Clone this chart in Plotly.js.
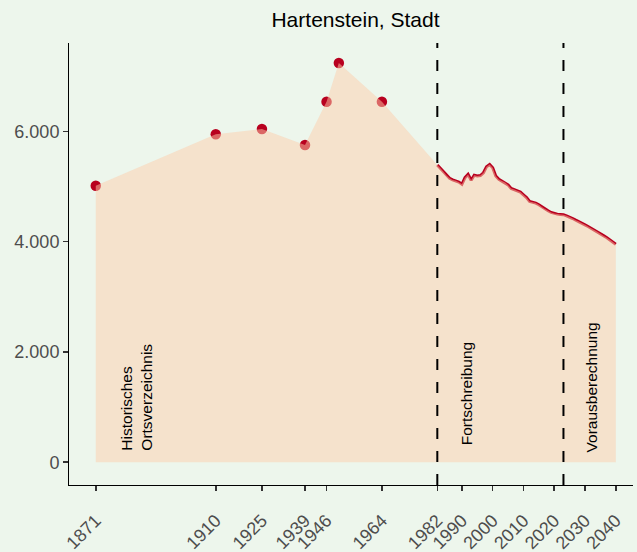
<!DOCTYPE html>
<html>
<head>
<meta charset="utf-8">
<script src="https://cdn.plot.ly/plotly-3.0.1.min.js"></script>
<style>html,body{margin:0;padding:0;background:#EDF6EC;}#chart{width:637px;height:552px;}</style>
</head>
<body>
<div id="chart"></div>
<script>
// Historical census points (Historisches Ortsverzeichnis)
var histYears = [1871, 1910, 1925, 1939, 1946, 1950, 1964];
var histValues = [5015, 5947, 6044, 5753, 6538, 7240, 6538];

// Annual series (Fortschreibung 1982-2022, Vorausberechnung 2023-2040)
var seriesYears = [1982,1983,1984,1985,1986,1987,1988,1989,1990,1991,1992,1993,1994,1995,1996,1997,1998,1999,2000,
  2001,2002,2003,2004,2005,2006,2007,2008,2009,2010,2011,2012,2013,2014,2015,2016,2017,2018,2019,2020,
  2021,2022,2023,2024,2025,2026,2027,2028,2029,2030,2031,2032,2033,2034,2035,2036,2037,2038,2039,2040];
var seriesValues = [5390,5330,5270,5200,5150,5120,5105,5080,5040,5160,5220,5115,5205,5190,5200,5250,5360,5400,5340,
  5190,5130,5100,5075,5030,4965,4945,4925,4900,4850,4800,4730,4715,4700,4670,4630,4595,4560,4530,4510,
  4500,4495,4490,4470,4450,4420,4390,4365,4335,4305,4275,4245,4210,4180,4145,4110,4075,4040,4000,3955];

// Period boundaries
var periodBreaks = [1982, 2023];
var periodLabels = ['Historisches<br>Ortsverzeichnis', 'Fortschreibung', 'Vorausberechnung'];

// Axis ticks
var xTickVals = [1871, 1910, 1925, 1939, 1946, 1964, 1982, 1990, 2000, 2010, 2020, 2030, 2040];
var xTickText = ['1871', '1910', '1925', '1939', '1946', '1964', '1982', '1990', '2000', '2010', '2020', '2030', '2040'];
var yTickVals = [0, 2000, 4000, 6000];
var yTickText = ['0', '2.000', '4.000', '6.000'];

var chartTitle = 'Hartenstein, Stadt';

var red = '#B8001F';
var traces = [
  {x: histYears, y: histValues, type: 'scatter', mode: 'markers',
   marker: {color: red, size: 10.5}, hoverinfo: 'x+y', showlegend: false},
  {x: seriesYears, y: seriesValues, type: 'scatter', mode: 'lines',
   line: {color: red, width: 3}, showlegend: false},
  {x: histYears.concat(seriesYears), y: histValues.concat(seriesValues), type: 'scatter', mode: 'none',
   fill: 'tozeroy', fillcolor: 'rgba(253,206,172,0.5)', showlegend: false, hoverinfo: 'skip'}
];

var shapes = periodBreaks.map(function (b) {
  return {type: 'line', xref: 'x', yref: 'paper', x0: b, x1: b, y0: 0, y1: 1,
          line: {color: '#000', width: 2, dash: '11px,12px'}, layer: 'above'};
});

var annPos = [
  {x: 1884.4, y: 165},
  {x: 1991.3, y: 280},
  {x: 2032.1, y: 150}
];
var annotations = periodLabels.map(function (t, i) {
  return {text: t, x: annPos[i].x, y: annPos[i].y, xref: 'x', yref: 'y',
          textangle: -90, showarrow: false, xanchor: 'center', yanchor: 'bottom', align: 'left',
          font: {family: 'Liberation Sans, Arial, sans-serif', size: 15.5, color: '#000'}};
});

var layout = {
  width: 637, height: 552,
  paper_bgcolor: '#EDF6EC', plot_bgcolor: '#EDF6EC',
  margin: {l: 69, r: 4, t: 43, b: 67, pad: 0},
  font: {family: 'Liberation Sans, Arial, sans-serif'},
  title: {text: chartTitle, x: 0.508, xref: 'paper', y: 1 - 20 / 552, yref: 'container', yanchor: 'middle',
          font: {size: 21, color: '#000', family: 'Liberation Sans, Arial, sans-serif'}},
  xaxis: {range: [1862.3, 2045.6], tickvals: xTickVals, ticktext: xTickText, tickangle: -45,
          showgrid: false, zeroline: false, showline: true, linecolor: '#000', linewidth: 1,
          ticks: 'outside', ticklen: 5, tickwidth: 1.6, tickcolor: '#333', ticklabelstandoff: 12,
          tickfont: {size: 18, color: '#4D4D4D'}},
  yaxis: {range: [-412, 7603], tickvals: yTickVals, ticktext: yTickText,
          showgrid: false, zeroline: false, showline: true, linecolor: '#000', linewidth: 1,
          ticks: 'outside', ticklen: 5, tickwidth: 1.6, tickcolor: '#333',
          tickfont: {size: 18, color: '#4D4D4D'}},
  shapes: shapes,
  annotations: annotations,
  showlegend: false
};

Plotly.newPlot('chart', traces, layout, {displayModeBar: false, staticPlot: true});
</script>
</body>
</html>
